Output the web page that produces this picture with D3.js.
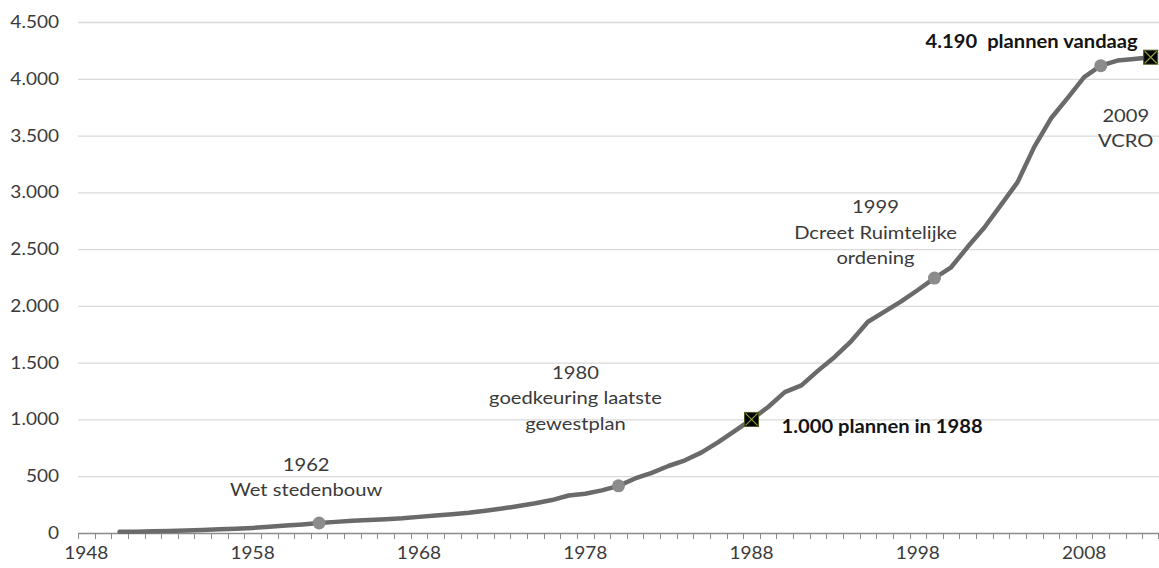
<!DOCTYPE html>
<html><head><meta charset="utf-8">
<script src="https://cdn.jsdelivr.net/npm/d3@7"></script>
<style>
html,body{margin:0;padding:0;background:#fff;}
svg{display:block;font-family:Lato, "Open Sans", sans-serif;}
</style></head>
<body><svg id="c" width="1159" height="568"></svg>
<script>
const years = d3.range(1948, 2013);
const dataYears = d3.range(1950, 2013);
const plans = [10,12,15,18,22,27,32,38,45,55,65,75,88,98,108,115,122,130,142,155,
  165,178,195,215,238,262,290,330,345,375,415,480,530,590,640,710,800,900,1000,1110,
  1240,1300,1430,1550,1690,1860,1950,2040,2140,2245,2340,2520,2690,2890,3090,3400,3650,3830,4015,4115,
  4160,4175,4190];
const yTicks = [0,500,1000,1500,2000,2500,3000,3500,4000,4500];
const xLabels = [1948,1958,1968,1978,1988,1998,2008];
const dotYears = [1962,1980,1999,2009];
const squareYears = [1988,2012];
const notes = [
  {year:1962, lines:["1962","Wet stedenbouw"]},
  {year:1980, lines:["1980","goedkeuring laatste","gewestplan"]},
  {year:1999, lines:["1999","Dcreet Ruimtelijke","ordening"]},
  {year:2009, lines:["2009","VCRO"]}
];
const boldNotes = [
  {year:1988, parts:["1.000 plannen in 1988"]},
  {year:2012, parts:["4.190","plannen vandaag"]}
];

const svg = d3.select("#c");
const L = 78, R = 1159, T = 22, B = 533;
const SX = 1.12;
const x = d3.scaleBand().domain(years).range([L, R]).padding(0);
const y = d3.scaleLinear().domain([0, 4500]).range([B, T]);
const cx = yr => x(yr) + x.bandwidth()/2;
const fmt = v => d3.format(",")(v).replace(/,/g, ".");
const valOf = yr => plans[dataYears.indexOf(yr)];
const stretch = ax => `translate(${ax},0) scale(${SX},1) translate(${-ax},0)`;

// gridlines
svg.append("g").selectAll("line").data(yTicks.filter(d=>d>0)).join("line")
  .attr("x1", L).attr("x2", R).attr("y1", d=>y(d)+0.5).attr("y2", d=>y(d)+0.5)
  .attr("stroke", "#d9d9d9").attr("stroke-width", 1.3);

// y axis labels
svg.append("g").selectAll("text").data(yTicks).join("text")
  .attr("x", 59).attr("y", d=>y(d)).attr("dy", "0.35em")
  .attr("transform", stretch(59))
  .attr("text-anchor", "end").attr("font-size", 17).attr("fill", "#3a3a3a")
  .text(fmt);

// x axis
const xa = svg.append("g");
xa.append("line").attr("x1", L).attr("x2", R).attr("y1", B+0.5).attr("y2", B+0.5)
  .attr("stroke", "#8c8c8c").attr("stroke-width", 1.3);
const edges = years.map(yr => x(yr)).concat([R-1]);
xa.selectAll("line.t").data(edges).join("line").attr("class","t")
  .attr("x1", d=>Math.round(d)+0.5).attr("x2", d=>Math.round(d)+0.5)
  .attr("y1", B).attr("y2", B+6).attr("stroke", "#8c8c8c").attr("stroke-width", 1);
xa.selectAll("text").data(xLabels).join("text")
  .attr("x", d=>cx(d)).attr("y", 559)
  .attr("transform", d=>stretch(cx(d)))
  .attr("text-anchor", "middle").attr("font-size", 17).attr("fill", "#3a3a3a")
  .text(d=>d);

// line
const line = d3.line().x((d,i)=>cx(dataYears[i])).y(d=>y(d)).curve(d3.curveLinear);
svg.append("path").datum(plans).attr("d", line)
  .attr("fill", "none").attr("stroke", "#6a6a6a").attr("stroke-width", 4.5)
  .attr("stroke-linejoin", "round").attr("stroke-linecap", "round");

// dots
svg.append("g").selectAll("circle").data(dotYears).join("circle")
  .attr("cx", d=>cx(d)).attr("cy", d=>y(valOf(d))).attr("r", 6.5)
  .attr("fill", "#8c8c8c");

// squares
const sq = svg.append("g").selectAll("g").data(squareYears).join("g")
  .attr("transform", d=>`translate(${cx(d)},${y(valOf(d))})`);
sq.append("rect").attr("x", -7).attr("y", -7).attr("width", 14).attr("height", 14)
  .attr("fill", "#000").attr("stroke", "#4a5a1a").attr("stroke-width", 1);
sq.append("path").attr("d", "M-6,-6L6,6M6,-6L-6,6").attr("stroke", "#8aa03a").attr("stroke-width", 1.2);

// annotations
const offsets = {1962:{dx:-13, dy:-52}, 1980:{dx:-43, dy:-107}, 1999:{dx:-59, dy:-65}, 2009:{dx:25, dy:56}};
notes.forEach(n => {
  const o = offsets[n.year];
  const bx = cx(n.year) + o.dx, by = y(valOf(n.year)) + o.dy;
  const t = svg.append("text").attr("text-anchor", "middle").attr("font-size", 18)
    .attr("fill", "#3a3a3a").attr("transform", stretch(bx));
  n.lines.forEach((s,i) => t.append("tspan").attr("x", bx).attr("y", by + i*25.5).text(s));
});
const bOff = {1988:{dx:30, dy:14, anchor:"start"}, 2012:{dx:-13, dy:-9, anchor:"end"}};
boldNotes.forEach(n => {
  const o = bOff[n.year];
  const ax = cx(n.year)+o.dx;
  const t = svg.append("text").attr("x", ax).attr("y", y(valOf(n.year))+o.dy)
    .attr("transform", stretch(ax))
    .attr("text-anchor", o.anchor).attr("font-size", 18).attr("font-weight", "bold")
    .attr("fill", "#141414");
  n.parts.forEach((p,i) => t.append("tspan").attr("dx", i ? 9 : 0).text(p));
});
</script></body></html>
